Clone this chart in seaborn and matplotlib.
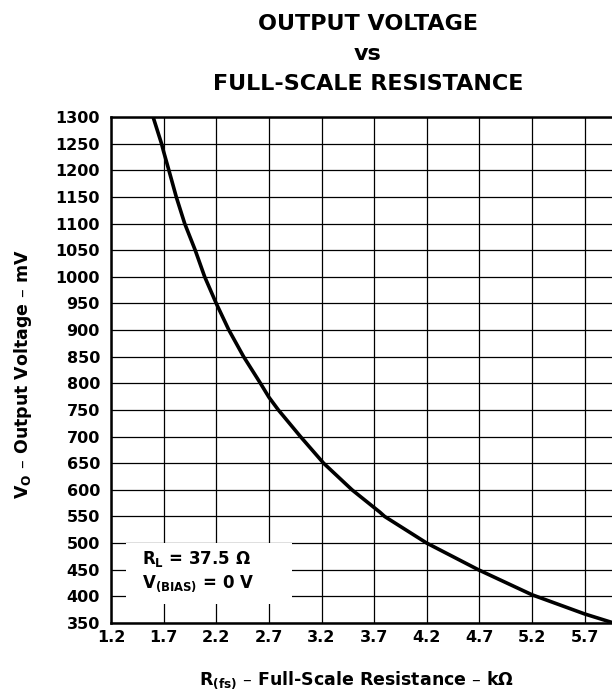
import matplotlib
matplotlib.use("Agg")
import matplotlib.pyplot as plt
from matplotlib.patches import Rectangle
import seaborn as sns
import pandas as pd

# Full-scale resistance (kOhm) and output voltage (mV)
r_fs = [1.60, 1.68, 1.70, 1.75, 1.82, 1.90, 2.00, 2.09, 2.20, 2.32, 2.46,
        2.62, 2.70, 2.79, 3.00, 3.22, 3.49, 3.755, 3.80, 4.20, 4.69, 5.20,
        5.70, 5.96]
v_out = [1300, 1250, 1235, 1200, 1150, 1100, 1050, 1000, 950, 900, 850,
         800, 774, 750, 700, 650, 600, 558, 550, 500, 450, 403,
         367, 351]

x_ticks = [1.2, 1.7, 2.2, 2.7, 3.2, 3.7, 4.2, 4.7, 5.2, 5.7]
y_ticks = list(range(350, 1301, 50))

df = pd.DataFrame({"R": r_fs, "V": v_out})

sns.set_theme(style="white")
plt.rcParams["font.family"] = ["DejaVu Sans"]
plt.rcParams["mathtext.fontset"] = "dejavusans"
plt.rcParams["text.color"] = "black"
plt.rcParams["xtick.color"] = "black"
plt.rcParams["ytick.color"] = "black"

W, H = 612, 696
fig = plt.figure(figsize=(W / 100, H / 100), dpi=100)
left, right, top, bottom = 111, 612, 117, 623
ax = fig.add_axes([left / W, 1 - bottom / H, (right - left) / W, (bottom - top) / H])

sns.lineplot(data=df, x="R", y="V", ax=ax, color="black", linewidth=2.6,
             zorder=4)

ax.set_xlim(1.2, 5.96)
ax.set_ylim(350, 1300)
ax.set_xticks(x_ticks)
ax.set_yticks(y_ticks)
ax.set_xticklabels([f"{t:.1f}" for t in x_ticks], fontsize=11.5, fontweight="bold")
ax.set_yticklabels([str(t) for t in y_ticks], fontsize=11.5, fontweight="bold")
ax.tick_params(axis="x", length=0, pad=5, colors="black")
ax.tick_params(axis="y", length=0, pad=8, colors="black")
ax.set_xlabel("")
ax.set_ylabel("")

ax.grid(True, color="black", linewidth=0.9)
ax.set_axisbelow(True)
for side in ["left", "bottom", "top"]:
    ax.spines[side].set_visible(True)
    ax.spines[side].set_color("black")
    ax.spines[side].set_linewidth(1.8)
ax.spines["right"].set_visible(False)

# Axis titles
fig.text(357 / W, 1 - 685 / H,
         r"R$_{\mathbf{(fs)}}$ – Full-Scale Resistance – kΩ",
         ha="center", va="baseline", fontsize=12.5, fontweight="bold")
fig.text(23 / W, 1 - 374 / H,
         r"V$_{\mathbf{O}}$ – Output Voltage – mV",
         ha="center", va="center", rotation=90, fontsize=12.5, fontweight="bold")

# Chart title
for line, base in [("OUTPUT VOLTAGE", 30), ("vs", 60), ("FULL-SCALE RESISTANCE", 90)]:
    fig.text(368 / W, 1 - base / H, line, ha="center", va="baseline",
             fontsize=16, fontweight="bold")

# Test-condition note on a white panel over the grid
ax.add_patch(Rectangle((1.343, 386.5), 2.92 - 1.343, 501 - 386.5,
                       facecolor="white", edgecolor="none", zorder=3))
ax.text(1.49, 461.7, r"R$_{\mathbf{L}}$ = 37.5 Ω", ha="left", va="baseline",
        fontsize=12, fontweight="bold", zorder=5)
ax.text(1.49, 416.5, r"V$_{\mathbf{(BIAS)}}$ = 0 V", ha="left", va="baseline",
        fontsize=12, fontweight="bold", zorder=5)

fig.savefig("out.png", dpi=100)
